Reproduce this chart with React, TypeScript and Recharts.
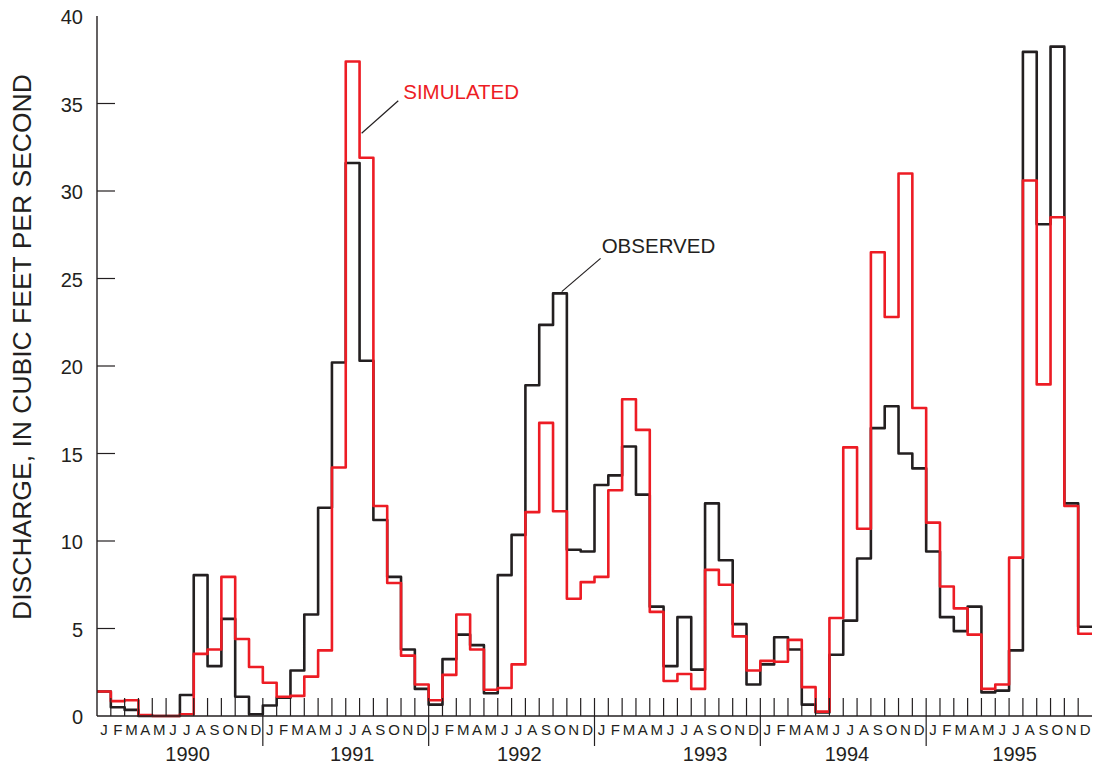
import React from 'react'
import { LineChart, Line, XAxis, YAxis, ReferenceLine, ReferenceDot, Label } from 'recharts'

const years = ['1990', '1991', '1992', '1993', '1994', '1995']
const monthLetters = ['J', 'F', 'M', 'A', 'M', 'J', 'J', 'A', 'S', 'O', 'N', 'D']

// Monthly mean discharge, Jan 1990 - Dec 1995 (cubic feet per second)
const observed = [
  1.4, 0.5, 0.35, 0, 0, 0, 1.2, 8.05, 2.85, 5.55, 1.1, 0.1,
  0.6, 1.05, 2.6, 5.8, 11.9, 20.2, 31.6, 20.3, 11.2, 7.95, 3.8, 1.55,
  0.65, 3.25, 4.65, 4.05, 1.3, 8.05, 10.35, 18.9, 22.35, 24.15, 9.5, 9.4,
  13.2, 13.75, 15.4, 12.65, 6.25, 2.85, 5.65, 2.65, 12.15, 8.9, 5.25, 1.8,
  2.95, 4.5, 3.8, 0.65, 0.2, 3.5, 5.45, 9.0, 16.45, 17.7, 15.0, 14.15,
  9.4, 5.65, 4.85, 6.25, 1.35, 1.45, 3.75, 37.95, 28.1, 38.25, 12.15, 5.1,
]

const simulated = [
  1.4, 0.85, 0.9, 0.05, 0, 0, 0.1, 3.55, 3.8, 7.95, 4.4, 2.8,
  1.9, 1.1, 1.15, 2.25, 3.75, 14.2, 37.4, 31.9, 12.0, 7.6, 3.45, 1.8,
  0.9, 2.35, 5.8, 3.8, 1.5, 1.6, 2.95, 11.65, 16.75, 11.7, 6.7, 7.65,
  7.95, 12.9, 18.1, 16.35, 5.95, 2.0, 2.4, 1.55, 8.35, 7.5, 4.55, 2.6,
  3.15, 3.1, 4.35, 1.65, 0.25, 5.6, 15.35, 10.7, 26.5, 22.8, 31.0, 17.6,
  11.05, 7.4, 6.15, 4.65, 1.55, 1.8, 9.05, 30.6, 18.95, 28.5, 12.0, 4.7,
]

const yTicks = [0, 5, 10, 15, 20, 25, 30, 35, 40]

const W = 1093
const H = 768
const PLOT_LEFT = 97
const PLOT_RIGHT = 1092
const MONTH_W = (PLOT_RIGHT - PLOT_LEFT) / 72
const TICK = 18

const INK = '#231f20'
const RED = '#ed1c24'
const FONT = '"Liberation Sans", Arial, Helvetica, sans-serif'

// where each year label sits, in months from the start of that year
const yearLabelAt = [6.55, 6.47, 6.56, 8.0, 6.27, 6.4]

// stepAfter needs one extra point to close out December 1995
const data = Array.from({ length: 73 }, (_, i) => ({
  m: i,
  obs: observed[Math.min(i, 71)],
  sim: simulated[Math.min(i, 71)],
}))

const monthTicks = Array.from({ length: 73 }, (_, i) => i)
const bottomTicks = Array.from({ length: 145 }, (_, i) => i / 2)

function BottomTick(props: any) {
  const { x, y, payload } = props
  const v = payload.value
  if (v % 1 !== 0) {
    return (
      <text x={x} y={y + 13} textAnchor="middle" dominantBaseline="central" fontSize={15} fill={INK} fontFamily={FONT}>
        {monthLetters[Math.floor(v) % 12]}
      </text>
    )
  }
  const yi = v / 12
  return (
    <g>
      {v > 0 && v < 72 && <line x1={x} x2={x} y1={y - TICK} y2={y} stroke={INK} strokeWidth={1.2} />}
      {v % 12 === 0 && v > 0 && v < 72 && <line x1={x} x2={x} y1={y} y2={y + 30} stroke={INK} strokeWidth={1.2} />}
      {v % 12 === 0 && v < 72 && (
        <text x={x + yearLabelAt[yi] * MONTH_W} y={y + 38} textAnchor="middle" dominantBaseline="central" fontSize={20} fill={INK} fontFamily={FONT}>
          {years[yi]}
        </text>
      )}
    </g>
  )
}

function TopTick(props: any) {
  const { x, y, payload } = props
  if (payload.value <= 0 || payload.value >= 72) return null
  return <line x1={x} x2={x} y1={y} y2={y + TICK} stroke={INK} strokeWidth={1.2} />
}

function LeftTick(props: any) {
  const { x, y, payload } = props
  return (
    <g>
      {payload.value > 0 && payload.value < 40 && <line x1={x} x2={x + TICK} y1={y} y2={y} stroke={INK} strokeWidth={1.2} />}
      <text x={x - 14} y={y + 1} textAnchor="end" dominantBaseline="central" fontSize={20} fill={INK} fontFamily={FONT}>
        {payload.value}
      </text>
    </g>
  )
}

function RightTick(props: any) {
  const { x, y, payload } = props
  if (payload.value <= 0 || payload.value >= 40) return null
  return <line x1={x - TICK} x2={x} y1={y} y2={y} stroke={INK} strokeWidth={1.2} />
}

function AnnotText(props: any) {
  const { viewBox, text, color } = props
  return (
    <text x={viewBox.x} y={viewBox.y} dominantBaseline="central" fontSize={20.5} fill={color} fontFamily={FONT}>
      {text}
    </text>
  )
}

export default function App() {
  return (
    <div style={{ position: 'absolute', left: 0, top: 0, width: W, height: H, background: '#fff', fontFamily: FONT }}>
      <LineChart width={W} height={H} data={data} margin={{ top: 16, right: 1, bottom: 0, left: 0 }}>
        <XAxis
          xAxisId="month"
          dataKey="m"
          type="number"
          domain={[0, 72]}
          ticks={bottomTicks}
          interval={0}
          height={52}
          tickSize={0}
          tickMargin={0}
          tickLine={false}
          axisLine={{ stroke: INK, strokeWidth: 1.4 }}
          tick={<BottomTick />}
        />
        <XAxis
          xAxisId="top"
          orientation="top"
          dataKey="m"
          type="number"
          domain={[0, 72]}
          ticks={monthTicks}
          interval={0}
          height={0}
          tickSize={0}
          tickMargin={0}
          tickLine={false}
          axisLine={{ stroke: INK, strokeWidth: 1.4 }}
          tick={<TopTick />}
        />
        <YAxis
          yAxisId="left"
          domain={[0, 40]}
          ticks={yTicks}
          interval={0}
          width={97}
          tickSize={0}
          tickMargin={0}
          tickLine={false}
          axisLine={{ stroke: INK, strokeWidth: 1.4 }}
          tick={<LeftTick />}
        >
          <Label
            content={() => (
              <text
                transform="translate(31,347) rotate(-90)"
                textAnchor="middle"
                fontSize={26.5}
                fill={INK}
                fontFamily={FONT}
              >
                DISCHARGE, IN CUBIC FEET PER SECOND
              </text>
            )}
          />
        </YAxis>
        <YAxis
          yAxisId="right"
          orientation="right"
          domain={[0, 40]}
          ticks={yTicks}
          interval={0}
          width={0}
          tickSize={0}
          tickMargin={0}
          tickLine={false}
          axisLine={{ stroke: INK, strokeWidth: 1.4 }}
          tick={<RightTick />}
        />

        <Line
          xAxisId="month"
          yAxisId="left"
          type="stepAfter"
          dataKey="obs"
          stroke={INK}
          strokeWidth={2.6}
          strokeLinejoin="round"
          dot={false}
          activeDot={false}
          isAnimationActive={false}
        />
        <Line
          xAxisId="month"
          yAxisId="left"
          type="stepAfter"
          dataKey="sim"
          stroke={RED}
          strokeWidth={2.6}
          strokeLinejoin="round"
          dot={false}
          activeDot={false}
          isAnimationActive={false}
        />

        {/* callouts */}
        <ReferenceLine
          xAxisId="month"
          yAxisId="left"
          segment={[{ x: 21.8, y: 35.16 }, { x: 19.15, y: 33.3 }]}
          stroke={INK}
          strokeWidth={1.2}
        />
        <ReferenceDot
          xAxisId="month"
          yAxisId="left"
          x={22.16}
          y={35.7}
          r={0}
          stroke="none"
          label={<AnnotText text="SIMULATED" color={RED} />}
        />
        <ReferenceLine
          xAxisId="month"
          yAxisId="left"
          segment={[{ x: 36.44, y: 26.15 }, { x: 33.63, y: 24.25 }]}
          stroke={INK}
          strokeWidth={1.2}
        />
        <ReferenceDot
          xAxisId="month"
          yAxisId="left"
          x={36.52}
          y={26.86}
          r={0}
          stroke="none"
          label={<AnnotText text="OBSERVED" color={INK} />}
        />
      </LineChart>
    </div>
  )
}
